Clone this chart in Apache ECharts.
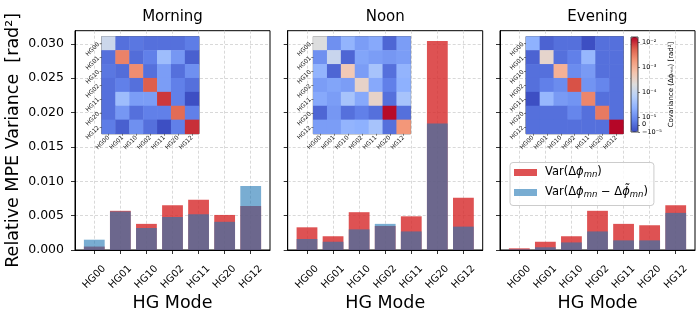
<!DOCTYPE html>
<html>
<head>
<meta charset="utf-8">
<script src="https://cdn.jsdelivr.net/npm/echarts@6/dist/echarts.min.js"></script>
<style>
html,body{margin:0;padding:0;background:#fff;}
#c{width:699px;height:313px;}
</style>
</head>
<body>
<div id="c"></div>
<script>
// ---------------- data ----------------
const categories = ['HG00', 'HG01', 'HG10', 'HG02', 'HG11', 'HG20', 'HG12'];
const panelTitles = ['Morning', 'Noon', 'Evening'];
const yTicks = [0, 0.005, 0.010, 0.015, 0.020, 0.025, 0.030];

// Var(Δφ_mn)
const morningVar = [0.0005, 0.0057, 0.0038, 0.0065, 0.0073, 0.0051, 0.0064];
const noonVar    = [0.0033, 0.0020, 0.0055, 0.0035, 0.0049, 0.0304, 0.0076];
const eveningVar = [0.00024, 0.0012, 0.0020, 0.0057, 0.0038, 0.0036, 0.0065];
// Var(Δφ_mn − Δφ̃_mn)
const morningVarRes = [0.0015, 0.0056, 0.0032, 0.0048, 0.0052, 0.0041, 0.0093];
const noonVarRes    = [0.0016, 0.0012, 0.0030, 0.0038, 0.0027, 0.0184, 0.0034];
const eveningVarRes = [0.0001, 0.0004, 0.0011, 0.0027, 0.0014, 0.0014, 0.0054];

// covariance matrices (rows/cols in category order)
const morningCov = [
  [1.2e-4, 1e-6, 3e-6, 1e-6, 1e-6, 1e-6, 5e-6],
  [1e-6, 2.8e-3, 0, 6e-6, 3.6e-5, 1.3e-5, -4e-6],
  [3e-6, 0, 2.3e-3, 1e-6, 1.5e-5, 1e-6, 1.1e-5],
  [1e-6, 6e-6, 1e-6, 5.4e-3, 1.5e-5, 6e-6, 1e-6],
  [1e-6, 3.6e-5, 1.5e-5, 1.5e-5, 8.6e-3, 6e-6, -9e-6],
  [1e-6, 1.3e-5, 1e-6, 6e-6, 6e-6, 4.3e-3, 6e-6],
  [5e-6, -4e-6, 1.1e-5, 1e-6, -9e-6, 6e-6, 9.5e-3]
];
const noonCov = [
  [2e-4, 1.1e-5, 2.7e-5, 1.5e-5, 2e-5, -2e-6, 1.5e-5],
  [1.1e-5, 1.1e-4, -2e-6, 1.8e-5, 1.5e-5, 1.3e-5, 1.5e-5],
  [2.7e-5, -2e-6, 5e-4, 1.5e-5, 4.5e-5, 1e-6, 2.7e-5],
  [1.5e-5, 1.8e-5, 1.5e-5, 3.3e-4, 2e-5, 6e-6, 2.4e-5],
  [2e-5, 1.5e-5, 4.5e-5, 2e-5, 3.3e-4, 1e-6, 4.5e-5],
  [-2e-6, 1.3e-5, 1e-6, 6e-6, 1e-6, 1.45e-2, 1e-6],
  [1.5e-5, 1.5e-5, 2.7e-5, 2.4e-5, 4.5e-5, 1e-6, 1.9e-3]
];
const eveningCov = [
  [2.5e-5, -3e-6, 1e-6, 1e-6, -9e-6, 1e-6, 1e-6],
  [-3e-6, 3e-4, 1e-6, 6e-6, 3e-5, 1e-6, 1e-6],
  [1e-6, 1e-6, 1e-3, 1e-5, 1.4e-5, 1e-6, 1e-6],
  [1e-6, 6e-6, 1e-5, 6.3e-3, 1.2e-5, 8e-6, 1e-6],
  [-9e-6, 3e-5, 1.4e-5, 1.2e-5, 2.6e-3, 1e-6, 1e-6],
  [1e-6, 1e-6, 1e-6, 8e-6, 1e-6, 3.3e-3, 1e-6],
  [1e-6, 1e-6, 1e-6, 1e-6, 1e-6, 1e-6, 1.55e-2]
];

const covRange = [-1e-5, 1.58e-2];
const cbarTickValues = [1e-2, 1e-3, 1e-4, 1e-5, 0, -1e-5];
const cbarTickLabels = ['10⁻²', '10⁻³', '10⁻⁴', '10⁻⁵', '0', '−10⁻⁵'];

const seriesNames = ['Var(Δϕ_mn)', 'Var(Δϕ_mn − Δϕ̃_mn)'];
const legendRich = {
  'Var(Δϕ_mn)': '{a|Var(Δ}{i|ϕ}{s|mn}{n|)}',
  'Var(Δϕ_mn − Δϕ̃_mn)': '{a|Var(Δ}{i|ϕ}{s|mn}{n| − Δ}{i|ϕ̃}{s|mn}{n|)}'
};
const yLabel = 'Relative MPE Variance  [rad²]';
const xLabel = 'HG Mode';
const cbarLabel = 'Covariance (Δϕₘₙ) [rad²]';

// ---------------- style / layout ----------------
const coolwarm = ['#3b4cc0', '#6282ea', '#8db0fe', '#b8d0f9', '#dddddd',
                  '#f5c4ad', '#f49a7b', '#de604d', '#b40426'];
const RED = 'rgba(214,39,40,0.8)';
const BLUE = 'rgba(31,119,180,0.6)';
const FONT = 'DejaVu Sans';
const panelLeft = [75, 287.7, 500];
const panelTop = 30.7, panelW = 195, panelH = 219.3;
const insetLeft = [101.7, 313.3, 526];
const insetTop = 36.5, insetSize = 97.3;
const cbarBox = {left: 631, top: 37, width: 7, height: 95};

// symmetric log transform used by the colour scale
const LINTHRESH = 1e-5, LINHALF = 0.286;
function symlog(v) {
  const a = Math.abs(v);
  if (a <= LINTHRESH) return v / LINTHRESH * LINHALF;
  return Math.sign(v) * (LINHALF + Math.log10(a / LINTHRESH));
}

const catPos = categories.map((_, i) => i);
const barSets = [[morningVar, morningVarRes], [noonVar, noonVarRes], [eveningVar, eveningVarRes]];
const covSets = [morningCov, noonCov, eveningCov];
const gridLine = {show: true, lineStyle: {color: '#cfcfcf', width: 0.8, type: [3, 2]}};

const grids = [], xAxes = [], yAxes = [], series = [];

for (let p = 0; p < 3; p++) {
  grids.push({left: panelLeft[p], top: panelTop, width: panelW, height: panelH,
    show: true, borderColor: '#000', borderWidth: 1, backgroundColor: 'transparent',
    containLabel: false, outerBoundsMode: 'none'});
  xAxes.push({
    type: 'value', gridIndex: p, min: -0.74, max: 6.74,
    axisLine: {show: true, onZero: false, lineStyle: {color: '#000', width: 1}},
    axisTick: {show: true, length: 4, customValues: catPos, lineStyle: {color: '#000', width: 0.8}},
    axisLabel: {customValues: catPos, formatter: v => categories[Math.round(v)] || '',
      rotate: 45, fontSize: 10, color: '#000', fontFamily: FONT,
      align: 'center', verticalAlign: 'middle', margin: 27},
    splitLine: gridLine,
    name: xLabel, nameLocation: 'middle', nameGap: 44, nameMoveOverlap: false,
    nameTextStyle: {fontSize: 17.5, color: '#000', fontFamily: FONT}
  });
  yAxes.push({
    type: 'value', gridIndex: p, min: 0, max: 0.0319,
    axisLine: {show: true, onZero: false, lineStyle: {color: '#000', width: 1}},
    axisTick: {show: true, length: 4, customValues: yTicks, lineStyle: {color: '#000', width: 0.8}},
    axisLabel: {show: p === 0, customValues: yTicks, formatter: v => v.toFixed(3),
      fontSize: 12.5, color: '#000', fontFamily: FONT, margin: 11},
    splitLine: gridLine,
    name: p === 0 ? yLabel : '', nameLocation: 'middle', nameGap: 53, nameMoveOverlap: false,
    nameTextStyle: {fontSize: 17.5, color: '#000', fontFamily: FONT}
  });
  const [v1, v2] = barSets[p];
  series.push({type: 'bar', name: seriesNames[0], xAxisIndex: p, yAxisIndex: p,
    barWidth: 20.8, barGap: '-100%', itemStyle: {color: RED},
    data: v1.map((v, i) => [i, v]), z: 2});
  series.push({type: 'bar', name: seriesNames[1], xAxisIndex: p, yAxisIndex: p,
    barWidth: 20.8, barGap: '-100%', itemStyle: {color: BLUE},
    data: v2.map((v, i) => [i, v]), z: 3});
}

const heatIdx = [];
for (let p = 0; p < 3; p++) {
  const g = 3 + p;
  grids.push({left: insetLeft[p], top: insetTop, width: insetSize, height: insetSize,
    show: true, borderColor: '#333', borderWidth: 0.8, backgroundColor: 'transparent',
    containLabel: false, outerBoundsMode: 'none', z: 4});
  const inAx = {
    type: 'category', gridIndex: g, data: categories,
    axisLine: {show: false, onZero: false},
    axisTick: {show: true, length: 2, alignWithLabel: true, lineStyle: {color: '#333', width: 0.6}},
    axisLabel: {fontSize: 6, rotate: 45, margin: 3, color: '#222', interval: 0, fontFamily: FONT},
    splitLine: {show: false}, z: 4
  };
  xAxes.push(Object.assign({}, inAx));
  yAxes.push(Object.assign({}, inAx, {inverse: true}));
  const cov = covSets[p];
  const data = [];
  for (let r = 0; r < cov.length; r++)
    for (let c = 0; c < cov[r].length; c++)
      data.push([c, r, symlog(cov[r][c])]);
  heatIdx.push(series.length);
  series.push({type: 'heatmap', xAxisIndex: g, yAxisIndex: g, data: data,
    itemStyle: {borderWidth: 0}, emphasis: {disabled: true}, z: 4});
}

// colour bar axis
const cbarPos = cbarTickValues.map(symlog);
grids.push(Object.assign({show: true, borderColor: '#222', borderWidth: 0.8,
  backgroundColor: 'transparent', containLabel: false, outerBoundsMode: 'none', z: 10}, cbarBox));
xAxes.push({type: 'category', gridIndex: 6, data: [''], show: false});
yAxes.push({
  type: 'value', gridIndex: 6, position: 'right',
  min: symlog(covRange[0]), max: symlog(covRange[1]),
  axisLine: {show: false}, splitLine: {show: false},
  axisTick: {show: true, length: 2, customValues: cbarPos, lineStyle: {color: '#222', width: 0.6}},
  axisLabel: {customValues: cbarPos, fontSize: 6.5, margin: 4, color: '#000', fontFamily: FONT,
    formatter: v => {
      for (let i = 0; i < cbarPos.length; i++) if (Math.abs(cbarPos[i] - v) < 1e-6) return cbarTickLabels[i];
      return '';
    }},
  name: cbarLabel, nameLocation: 'middle', nameRotate: 90, nameGap: 30, nameMoveOverlap: false,
  nameTextStyle: {fontSize: 7, color: '#000', fontFamily: FONT}
});

const graphics = panelTitles.map((t, i) => ({
  type: 'text', x: panelLeft[i] + panelW / 2, y: 17, z: 20,
  style: {text: t, fontSize: 15, fontFamily: FONT, fill: '#000',
    align: 'center', verticalAlign: 'middle', textAlign: 'center', textVerticalAlign: 'middle'}
}));

const option = {
  animation: false,
  backgroundColor: '#fff',
  textStyle: {fontFamily: FONT},
  grid: grids,
  xAxis: xAxes,
  yAxis: yAxes,
  series: series,
  graphic: graphics,
  visualMap: {
    type: 'continuous', seriesIndex: heatIdx, dimension: 2,
    min: symlog(covRange[0]), max: symlog(covRange[1]),
    inRange: {color: coolwarm}, calculable: false, show: true, realtime: false,
    orient: 'vertical', left: cbarBox.left, top: cbarBox.top,
    itemWidth: cbarBox.width, itemHeight: cbarBox.height,
    padding: 0, text: null, showLabel: false, hoverLink: false
  },
  legend: {
    show: true, orient: 'vertical', left: 510, top: 162.5,
    padding: [4, 6, 6, 4], itemWidth: 23, itemHeight: 7, itemGap: 7,
    backgroundColor: 'rgba(255,255,255,0.8)', borderColor: '#cccccc', borderWidth: 1, borderRadius: 3,
    data: seriesNames.map(n => ({name: n, icon: 'rect'})),
    formatter: n => legendRich[n],
    selectedMode: false,
    textStyle: {
      fontFamily: FONT, color: '#000',
      rich: {
        a: {fontSize: 11.5, lineHeight: 14, padding: [0, 0, 0, 3], fontFamily: FONT},
        n: {fontSize: 11.5, lineHeight: 14, fontFamily: FONT},
        i: {fontSize: 11.5, lineHeight: 14, fontStyle: 'italic', fontFamily: FONT},
        s: {fontSize: 8.5, lineHeight: 8, fontStyle: 'italic', verticalAlign: 'bottom', fontFamily: FONT}
      }
    }
  }
};

const chart = echarts.init(document.getElementById('c'), null, {renderer: 'canvas'});
chart.setOption(option);
</script>
</body>
</html>
